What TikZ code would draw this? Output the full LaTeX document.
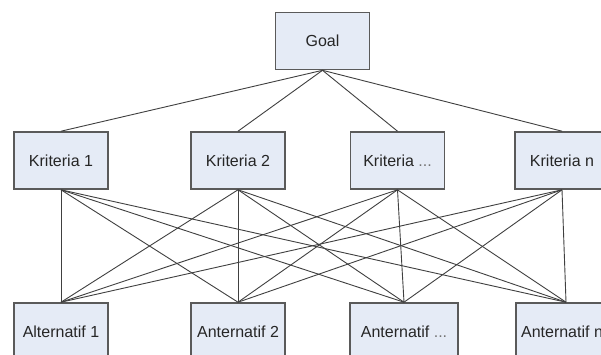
\documentclass[tikz,border=0pt]{standalone}
\usepackage{fontspec}
\setmainfont{Liberation Sans}
\definecolor{boxfill}{HTML}{E5EBF6}
\definecolor{boxdraw}{HTML}{5A5A5A}
\definecolor{linkcol}{HTML}{404040}
\begin{document}
\begin{tikzpicture}[x=1pt,y=-1pt,
  box/.style={draw=boxdraw,line width=1.6pt,fill=boxfill,minimum width=94pt,minimum height=57pt,inner sep=0pt,font=\fontsize{16}{18}\selectfont,text=black!85},
  link/.style={draw=linkcol,line width=0.9pt}]
\clip (0,0) rectangle (601,354);
\fill[white] (0,0) rectangle (601,354);
\node[box] (goal) at (322.5,41) {Goal};
\node[box] (k1) at (61,160.5) {Kriteria 1};
\node[box] (k2) at (238,160.5) {Kriteria 2};
\node[box] (k3) at (397.5,160.5) {Kriteria \textcolor{black!55}{...}};
\node[box] (k4) at (562,160.5) {Kriteria n};
\node[box] (a1) at (61,331.5) {Alternatif 1};
\node[box] (a2) at (238,331.5) {Anternatif 2};
\node[box,minimum width=108pt] (a3) at (404,331.5) {Anternatif \textcolor{black!55}{...}};
\node[box,minimum width=100pt] (a4) at (566,331.5) {\hspace*{-8pt}Anternatif n};
\begin{scope}[on background layer/.style={}]
\end{scope}
\foreach \k in {k1,k2,k3,k4} {
  \draw[link] (goal.south) -- (\k.north);
  \foreach \a in {a1,a2,a3,a4} {
    \draw[link] (\k.south) -- (\a.north);
  }
}
\end{tikzpicture}
\end{document}
